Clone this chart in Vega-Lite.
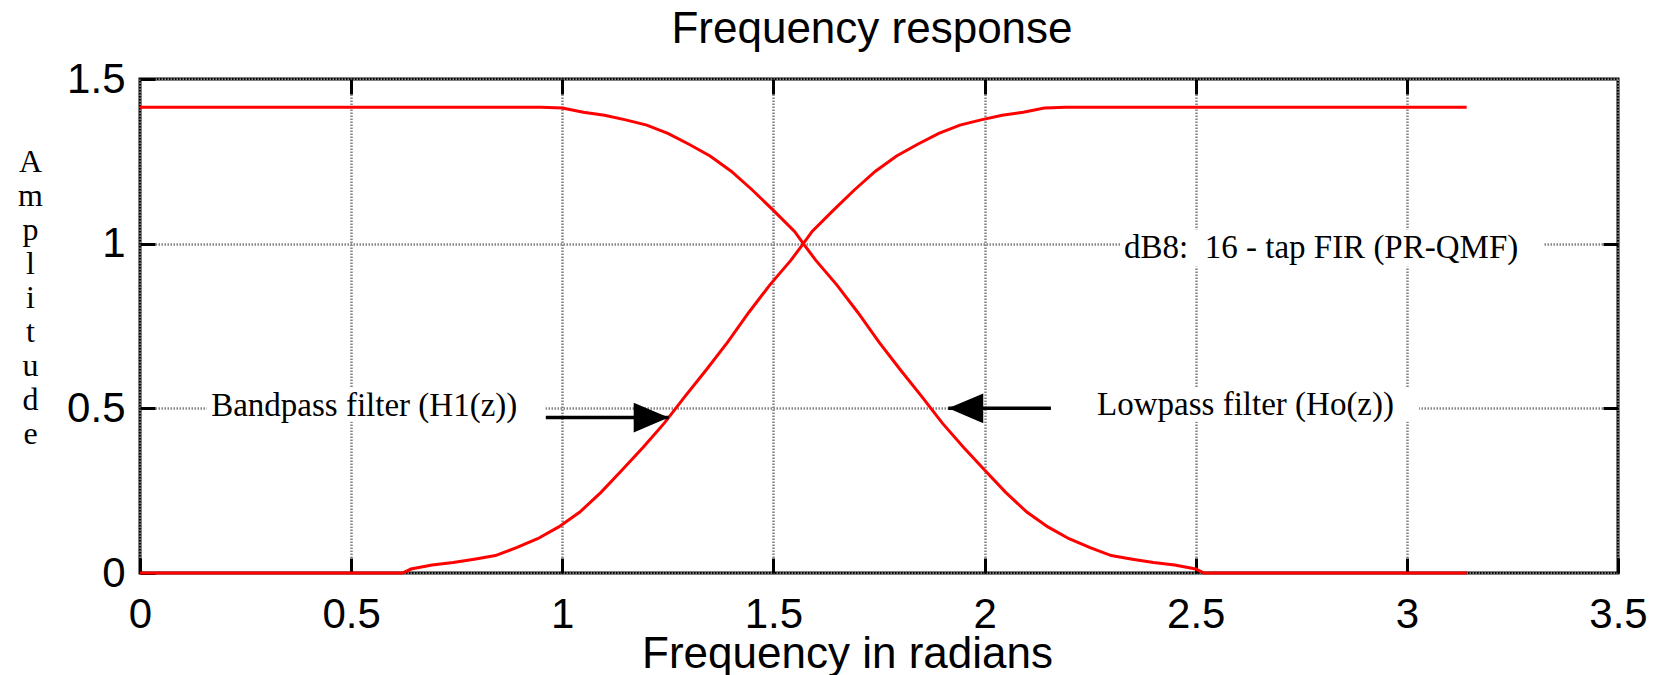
{
  "$schema": "https://vega.github.io/schema/vega-lite/v6.json",
  "width": 1478,
  "height": 494,
  "autosize": {"type": "none"},
  "padding": {"left": 140, "top": 79, "right": 46, "bottom": 102},
  "background": "white",
  "title": {
    "text": "Frequency response",
    "font": "Liberation Sans",
    "fontSize": 44,
    "fontWeight": "normal",
    "color": "black",
    "anchor": "middle",
    "frame": "group",
    "baseline": "alphabetic",
    "offset": -29,
    "dx": -7
  },
  "config": {
    "view": {"stroke": "black", "strokeWidth": 3},
    "axis": {
      "domain": false,
      "tickColor": "black",
      "tickWidth": 3,
      "tickSize": -15,
      "labelFont": "Liberation Sans",
      "labelFontSize": 42,
      "labelColor": "black",
      "labelFlush": false,
      "labelOverlap": false,
      "gridColor": "#848484",
      "gridWidth": 2.5,
      "gridDash": [1.5, 1.5],
      "gridOpacity": 1
    }
  },
  "datasets": {
    "response": [
      {"filter": "Lowpass", "w": 0, "amp": 1.4142},
      {"filter": "Lowpass", "w": 0.5, "amp": 1.4142},
      {"filter": "Lowpass", "w": 0.95, "amp": 1.4142},
      {"filter": "Lowpass", "w": 1.0, "amp": 1.412},
      {"filter": "Lowpass", "w": 1.05, "amp": 1.399},
      {"filter": "Lowpass", "w": 1.1, "amp": 1.39},
      {"filter": "Lowpass", "w": 1.15, "amp": 1.376},
      {"filter": "Lowpass", "w": 1.2, "amp": 1.36},
      {"filter": "Lowpass", "w": 1.25, "amp": 1.335},
      {"filter": "Lowpass", "w": 1.3, "amp": 1.302},
      {"filter": "Lowpass", "w": 1.35, "amp": 1.266},
      {"filter": "Lowpass", "w": 1.4, "amp": 1.22},
      {"filter": "Lowpass", "w": 1.45, "amp": 1.163},
      {"filter": "Lowpass", "w": 1.5, "amp": 1.101},
      {"filter": "Lowpass", "w": 1.55, "amp": 1.037},
      {"filter": "Lowpass", "w": 1.5708, "amp": 1.0},
      {"filter": "Lowpass", "w": 1.6, "amp": 0.95},
      {"filter": "Lowpass", "w": 1.65, "amp": 0.875},
      {"filter": "Lowpass", "w": 1.7, "amp": 0.791},
      {"filter": "Lowpass", "w": 1.75, "amp": 0.701},
      {"filter": "Lowpass", "w": 1.8, "amp": 0.618},
      {"filter": "Lowpass", "w": 1.85, "amp": 0.538},
      {"filter": "Lowpass", "w": 1.9, "amp": 0.455},
      {"filter": "Lowpass", "w": 1.95, "amp": 0.382},
      {"filter": "Lowpass", "w": 2.0, "amp": 0.313},
      {"filter": "Lowpass", "w": 2.05, "amp": 0.245},
      {"filter": "Lowpass", "w": 2.1, "amp": 0.185},
      {"filter": "Lowpass", "w": 2.15, "amp": 0.14},
      {"filter": "Lowpass", "w": 2.2, "amp": 0.104},
      {"filter": "Lowpass", "w": 2.25, "amp": 0.077},
      {"filter": "Lowpass", "w": 2.3, "amp": 0.053},
      {"filter": "Lowpass", "w": 2.35, "amp": 0.042},
      {"filter": "Lowpass", "w": 2.4, "amp": 0.032},
      {"filter": "Lowpass", "w": 2.45, "amp": 0.024},
      {"filter": "Lowpass", "w": 2.5, "amp": 0.012},
      {"filter": "Lowpass", "w": 2.52, "amp": 0},
      {"filter": "Lowpass", "w": 3.1416, "amp": 0},
      {"filter": "Bandpass", "w": 0, "amp": 0},
      {"filter": "Bandpass", "w": 0.6216, "amp": 0},
      {"filter": "Bandpass", "w": 0.6416, "amp": 0.012},
      {"filter": "Bandpass", "w": 0.6916, "amp": 0.024},
      {"filter": "Bandpass", "w": 0.7416, "amp": 0.032},
      {"filter": "Bandpass", "w": 0.7916, "amp": 0.042},
      {"filter": "Bandpass", "w": 0.8416, "amp": 0.053},
      {"filter": "Bandpass", "w": 0.8916, "amp": 0.077},
      {"filter": "Bandpass", "w": 0.9416, "amp": 0.104},
      {"filter": "Bandpass", "w": 0.9916, "amp": 0.14},
      {"filter": "Bandpass", "w": 1.0416, "amp": 0.185},
      {"filter": "Bandpass", "w": 1.0916, "amp": 0.245},
      {"filter": "Bandpass", "w": 1.1416, "amp": 0.313},
      {"filter": "Bandpass", "w": 1.1916, "amp": 0.382},
      {"filter": "Bandpass", "w": 1.2416, "amp": 0.455},
      {"filter": "Bandpass", "w": 1.2916, "amp": 0.538},
      {"filter": "Bandpass", "w": 1.3416, "amp": 0.618},
      {"filter": "Bandpass", "w": 1.3916, "amp": 0.701},
      {"filter": "Bandpass", "w": 1.4416, "amp": 0.791},
      {"filter": "Bandpass", "w": 1.4916, "amp": 0.875},
      {"filter": "Bandpass", "w": 1.5416, "amp": 0.95},
      {"filter": "Bandpass", "w": 1.5708, "amp": 1.0},
      {"filter": "Bandpass", "w": 1.5916, "amp": 1.037},
      {"filter": "Bandpass", "w": 1.6416, "amp": 1.101},
      {"filter": "Bandpass", "w": 1.6916, "amp": 1.163},
      {"filter": "Bandpass", "w": 1.7416, "amp": 1.22},
      {"filter": "Bandpass", "w": 1.7916, "amp": 1.266},
      {"filter": "Bandpass", "w": 1.8416, "amp": 1.302},
      {"filter": "Bandpass", "w": 1.8916, "amp": 1.335},
      {"filter": "Bandpass", "w": 1.9416, "amp": 1.36},
      {"filter": "Bandpass", "w": 1.9916, "amp": 1.376},
      {"filter": "Bandpass", "w": 2.0416, "amp": 1.39},
      {"filter": "Bandpass", "w": 2.0916, "amp": 1.399},
      {"filter": "Bandpass", "w": 2.1416, "amp": 1.412},
      {"filter": "Bandpass", "w": 2.1916, "amp": 1.4142},
      {"filter": "Bandpass", "w": 3.1416, "amp": 1.4142}
    ],
    "labelBoxes": [
      {"x1": 0.158, "x2": 0.96, "y1": 0.459, "y2": 0.565},
      {"x1": 2.157, "x2": 3.029, "y1": 0.459, "y2": 0.565},
      {"x1": 2.322, "x2": 3.323, "y1": 0.93, "y2": 1.042}
    ],
    "notes": [
      {"note": "Bandpass filter (H1(z))", "w": 0.531, "amp": 0.477},
      {"note": "Lowpass filter (Ho(z))", "w": 2.618, "amp": 0.48},
      {"note": "dB8:\u00a0 16 - tap FIR (PR-QMF)", "w": 2.797, "amp": 0.957}
    ],
    "arrows": [
      {"target": "Bandpass", "tail": 0.961, "tip": 1.252, "amp": 0.472, "dir": "right"},
      {"target": "Lowpass", "tail": 2.157, "tip": 1.914, "amp": 0.5, "dir": "left"}
    ]
  },
  "layer": [
    {
      "data": {"name": "response"},
      "mark": {"type": "line", "color": "#ff0000", "strokeWidth": 3, "clip": false},
      "encoding": {
        "x": {
          "field": "w",
          "type": "quantitative",
          "scale": {"domain": [0, 3.5], "nice": false, "zero": false},
          "axis": {
            "orient": "bottom",
            "values": [0, 0.5, 1, 1.5, 2, 2.5, 3, 3.5],
            "format": "~g",
            "grid": true,
            "labelPadding": 36,
            "title": "Frequency in radians",
            "titleFont": "Liberation Sans",
            "titleFontSize": 44,
            "titleFontWeight": "normal",
            "titleColor": "black",
            "titleX": 707,
            "titleY": 94,
            "titleAlign": "center",
            "titleBaseline": "alphabetic"
          }
        },
        "y": {
          "field": "amp",
          "type": "quantitative",
          "scale": {"domain": [0, 1.5], "nice": false},
          "axis": {
            "orient": "left",
            "values": [0, 0.5, 1, 1.5],
            "format": "~g",
            "grid": true,
            "labelPadding": 30,
            "title": ["A", "m", "p", "l", "i", "t", "u", "d", "e"],
            "titleFont": "Liberation Serif",
            "titleFontSize": 32,
            "titleFontWeight": "normal",
            "titleColor": "black",
            "titleAngle": 0,
            "titleX": -110,
            "titleY": 92,
            "titleAlign": "center",
            "titleBaseline": "alphabetic",
            "titleLineHeight": 34
          }
        },
        "detail": {"field": "filter", "type": "nominal"}
      }
    },
    {
      "data": {"name": "labelBoxes"},
      "mark": {"type": "rect", "fill": "white"},
      "encoding": {
        "x": {
          "field": "x1",
          "type": "quantitative",
          "scale": {"domain": [0, 3.5], "nice": false, "zero": false},
          "axis": {
            "orient": "top",
            "values": [0.5, 1, 1.5, 2, 2.5, 3],
            "labels": false,
            "grid": false,
            "title": null
          }
        },
        "x2": {"field": "x2"},
        "y": {
          "field": "y1",
          "type": "quantitative",
          "scale": {"domain": [0, 1.5], "nice": false},
          "axis": {
            "orient": "right",
            "values": [0.5, 1],
            "labels": false,
            "grid": false,
            "title": null
          }
        },
        "y2": {"field": "y2"}
      }
    },
    {
      "data": {"name": "notes"},
      "mark": {
        "type": "text",
        "font": "Liberation Serif",
        "fontSize": 33,
        "color": "black",
        "align": "center",
        "baseline": "alphabetic"
      },
      "encoding": {
        "x": {"field": "w", "type": "quantitative", "scale": {"domain": [0, 3.5], "nice": false, "zero": false}, "axis": null},
        "y": {"field": "amp", "type": "quantitative", "scale": {"domain": [0, 1.5], "nice": false}, "axis": null},
        "text": {"field": "note", "type": "nominal"}
      }
    },
    {
      "data": {"name": "arrows"},
      "mark": {"type": "rule", "color": "black", "strokeWidth": 3.5},
      "encoding": {
        "x": {"field": "tail", "type": "quantitative", "scale": {"domain": [0, 3.5], "nice": false, "zero": false}, "axis": null},
        "x2": {"field": "tip"},
        "y": {"field": "amp", "type": "quantitative", "scale": {"domain": [0, 1.5], "nice": false}, "axis": null}
      }
    },
    {
      "data": {"name": "arrows"},
      "mark": {"type": "point", "filled": true, "color": "black", "opacity": 1, "size": 1225, "strokeWidth": 0},
      "encoding": {
        "x": {"field": "tip", "type": "quantitative", "scale": {"domain": [0, 3.5], "nice": false, "zero": false}, "axis": null},
        "y": {"field": "amp", "type": "quantitative", "scale": {"domain": [0, 1.5], "nice": false}, "axis": null},
        "shape": {
          "field": "dir",
          "type": "nominal",
          "scale": {"domain": ["right", "left"], "range": ["M0,0L-2,-0.85L-2,0.85Z", "M0,0L2,-0.85L2,0.85Z"]},
          "legend": null
        }
      }
    }
  ],
  "resolve": {"axis": {"x": "independent", "y": "independent"}}
}
